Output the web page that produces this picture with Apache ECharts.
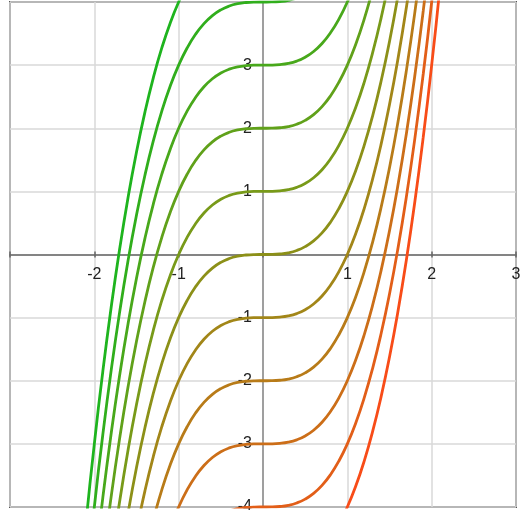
<!DOCTYPE html>
<html>
<head>
<meta charset="utf-8">
<style>
  html, body { margin: 0; padding: 0; background: #fff; }
  #chart { width: 521px; height: 510px; }
</style>
<script src="https://cdn.jsdelivr.net/npm/echarts@6/dist/echarts.min.js"></script>
</head>
<body>
<div id="chart"></div>
<script>
// x sample points shared by every curve
const xs = [
  -2.2, -2.1, -2.0, -1.9, -1.8, -1.7, -1.6, -1.5, -1.4, -1.3, -1.2, -1.1,
  -1.0, -0.9, -0.8, -0.7, -0.6, -0.5, -0.4, -0.3, -0.2, -0.1, 0,
  0.1, 0.2, 0.3, 0.4, 0.5, 0.6, 0.7, 0.8, 0.9, 1.0,
  1.1, 1.2, 1.3, 1.4, 1.5, 1.6, 1.7, 1.8, 1.9, 2.0, 2.1, 2.2
];

// the curve through the origin, read at each x
const baseCurve = [
  -10.648, -9.261, -8.0, -6.859, -5.832, -4.913, -4.096, -3.375, -2.744, -2.197, -1.728, -1.331,
  -1.0, -0.729, -0.512, -0.343, -0.216, -0.125, -0.064, -0.027, -0.008, -0.001, 0,
  0.001, 0.008, 0.027, 0.064, 0.125, 0.216, 0.343, 0.512, 0.729, 1.0,
  1.331, 1.728, 2.197, 2.744, 3.375, 4.096, 4.913, 5.832, 6.859, 8.0, 9.261, 10.648
];

// vertical shift of each curve, top-left (green) to bottom-right (red)
const shifts = [5, 4, 3, 2, 1, 0, -1, -2, -3, -4, -5];

const xTicks = [-2, -1, 1, 2, 3];
const yTicks = [-4, -3, -2, -1, 1, 2, 3];

const palette = [
  '#1eb41e', '#30ae1c', '#48a81b', '#60a11a', '#789a19', '#8c9018',
  '#a28618', '#b87b18', '#cc6e18', '#e25e18', '#f84c18'
];

const W = 521, H = 510;
const grid = { left: 10, right: 5, top: 2, bottom: 3 };
// move the axes from the grid edges to the middle (where 0 sits)
const xOffset = -(H - grid.top - grid.bottom) / 2;
const yOffset = -(W - grid.left - grid.right) / 2;

const chart = echarts.init(document.getElementById('chart'));

const labelFont = {
  color: '#222',
  fontSize: 16,
  fontFamily: '"Liberation Sans", Arial, sans-serif'
};

const series = shifts.map((c, k) => ({
  name: 'c' + c,
  type: 'line',
  data: xs.map((x, i) => [x, baseCurve[i] + c]),
  smooth: true,
  showSymbol: false,
  clip: true,
  lineStyle: { color: palette[k], width: 2.8 },
  itemStyle: { color: palette[k] },
  z: 3
}));

chart.setOption({
  animation: false,
  grid: Object.assign({
    show: true,
    containLabel: false,
    outerBoundsMode: 'none',
    borderColor: '#555',
    borderWidth: 2,
    backgroundColor: '#fff'
  }, grid),
  xAxis: [{
    type: 'value',
    position: 'bottom',
    offset: xOffset,
    min: -3,
    max: 3,
    interval: 1,
    axisLine: { onZero: false, lineStyle: { color: '#666', width: 1.5 } },
    axisTick: { show: true, length: 3, lineStyle: { color: '#666', width: 1.5 } },
    splitLine: { show: true, lineStyle: { color: '#d9d9d9', width: 1.5 } },
    axisLabel: Object.assign({
      margin: 12,
      showMinLabel: true,
      showMaxLabel: true,
      formatter: v => xTicks.includes(v) ? String(v) : ''
    }, labelFont)
  }, {
    type: 'value',
    position: 'bottom',
    offset: xOffset,
    min: -3,
    max: 3,
    interval: 1,
    axisLine: { show: false, onZero: false },
    axisTick: { show: true, inside: true, length: 3, lineStyle: { color: '#666', width: 1.5 } },
    splitLine: { show: false },
    axisLabel: { show: false }
  }],
  yAxis: {
    type: 'value',
    position: 'left',
    offset: yOffset,
    min: -4,
    max: 4,
    interval: 1,
    axisLine: { onZero: false, lineStyle: { color: '#888', width: 1.5 } },
    axisTick: { show: false },
    splitLine: { show: true, lineStyle: { color: '#d9d9d9', width: 1.5 } },
    axisLabel: Object.assign({
      margin: 11,
      showMinLabel: true,
      showMaxLabel: true,
      formatter: v => yTicks.includes(v) ? String(v) : ''
    }, labelFont)
  },
  series: series
});
</script>
</body>
</html>
